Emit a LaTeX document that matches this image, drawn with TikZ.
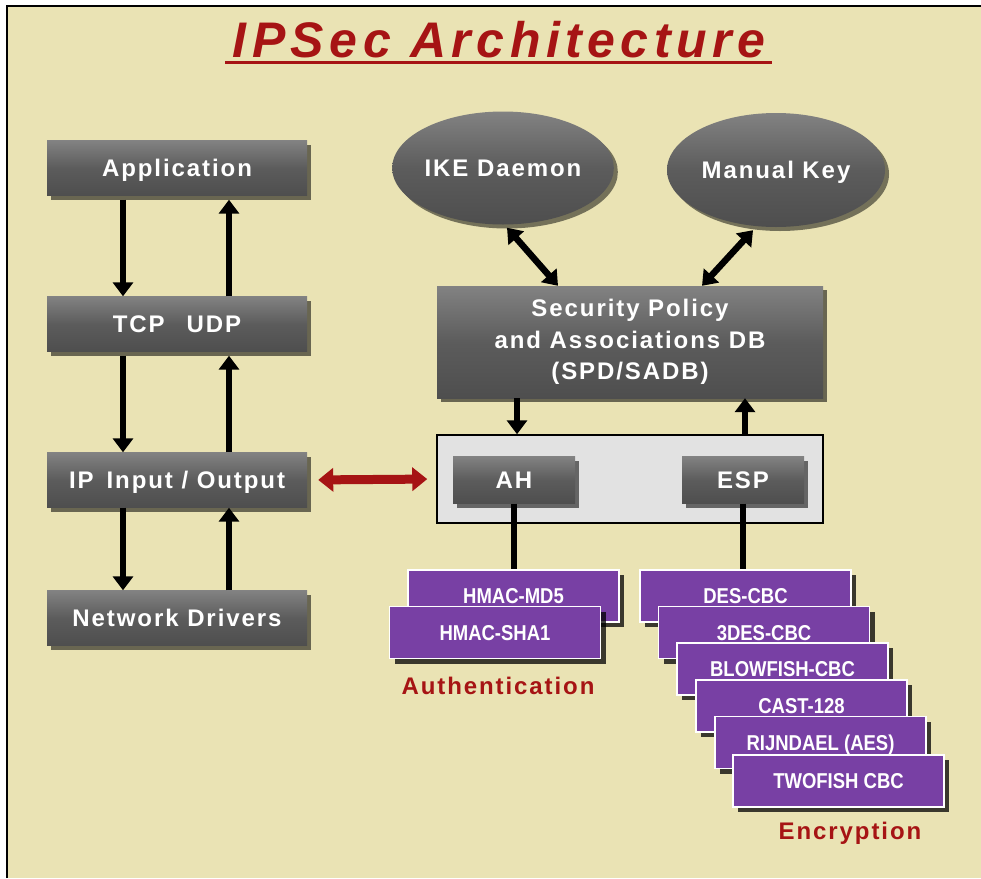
\documentclass[tikz,border=0pt]{standalone}
\usepackage{fontspec}
\setmainfont{Liberation Sans}
\newfontfamily\spaced[LetterSpace=8]{Liberation Sans}
\newfontfamily\titlefont[LetterSpace=11]{Liberation Sans}
\newfontfamily\narrowfont[FakeStretch=0.86]{Liberation Sans}
\usetikzlibrary{arrows.meta,shadows,shapes.geometric}
\definecolor{bg}{RGB}{234,227,180}
\definecolor{boxgray}{RGB}{92,92,92}
\definecolor{boxtop}{RGB}{130,130,130}
\definecolor{boxbot}{RGB}{78,78,78}
\definecolor{purp}{RGB}{120,64,164}
\definecolor{darkred}{RGB}{166,20,20}
\definecolor{panelgray}{RGB}{226,226,226}
\tikzset{
  graybox/.style={rectangle, inner sep=0pt, top color=boxtop, bottom color=boxbot, middle color=boxgray,
    drop shadow={shadow xshift=4pt, shadow yshift=-4pt, opacity=0.55, fill=black},
    text=white, font=\spaced\bfseries\fontsize{24}{30}\selectfont},
  layerbox/.style={graybox, minimum width=260pt, minimum height=55pt, text height=17pt, text depth=0pt},
  smallbox/.style={graybox, minimum width=122pt, minimum height=47pt, text height=17pt, text depth=0pt},
  keyell/.style={ellipse, inner sep=0pt, top color=boxtop, bottom color=boxbot, middle color=boxgray,
    drop shadow={shadow xshift=4pt, shadow yshift=-4pt, opacity=0.5, fill=black},
    text=white, font=\spaced\bfseries\fontsize{24}{30}\selectfont, text height=17pt, text depth=0pt},
  panelbox/.style={rectangle, fill=panelgray, draw=black, line width=1.5pt, minimum width=386pt, minimum height=88pt, inner sep=0pt},
  algbox/.style={rectangle, fill=purp, draw=white, line width=1.5pt, minimum width=211pt, minimum height=52pt, inner sep=0pt,
    drop shadow={shadow xshift=5pt, shadow yshift=-5pt, opacity=0.75, fill=black},
    text=white, font=\narrowfont\bfseries\fontsize{21.5}{26}\selectfont, text height=15pt, text depth=0pt},
  grouplabel/.style={text=darkred, font=\spaced\bfseries\fontsize{24}{30}\selectfont},
  blk/.style={line width=6.5pt, -{Triangle[width=20pt,length=14pt]}},
  dblk/.style={line width=6.5pt, {Triangle[width=20pt,length=14pt]}-{Triangle[width=20pt,length=14pt]}},
  redarrow/.style={line width=9pt, darkred, {Triangle[width=23pt,length=15pt]}-{Triangle[width=23pt,length=15pt]}},
  plainline/.style={line width=5.5pt}
}
\begin{document}
\begin{tikzpicture}[x=1pt,y=-1pt]
\useasboundingbox (0,0) rectangle (981,878);
\fill[white] (0,0) rectangle (981,878);
\fill[bg] (7,6) rectangle (981,878);
\draw[black, line width=2pt] (7,878) -- (7,6) -- (981,6);

% title
\node[text=darkred, font=\titlefont\bfseries\itshape\fontsize{50}{55}\selectfont, anchor=base] (title) at (499,57) {IPSec Architecture};
\draw[darkred, line width=3pt] (225,62.5) -- (772,62.5);

% left stack
\node[layerbox] (app) at (177,168) {Application};
\node[layerbox] (tcp) at (177,324) {TCP\hspace{22pt}UDP};
\node[layerbox] (ip)  at (177,480) {IP\hspace{13pt}Input / Output};
\node[layerbox] (nd)  at (177,618) {Network Drivers};

\draw[blk] ([xshift=-54pt,yshift=-4pt]app.south) -- ([xshift=-54pt]tcp.north);
\draw[blk] ([xshift=52pt]tcp.north) -- ([xshift=52pt,yshift=-4pt]app.south);
\draw[blk] ([xshift=-54pt,yshift=-4pt]tcp.south) -- ([xshift=-54pt]ip.north);
\draw[blk] ([xshift=52pt]ip.north) -- ([xshift=52pt,yshift=-4pt]tcp.south);
\draw[blk] ([xshift=-54pt]ip.south) -- ([xshift=-54pt]nd.north);
\draw[blk] ([xshift=52pt]nd.north) -- ([xshift=52pt]ip.south);

% key management
\node[keyell, minimum width=220pt, minimum height=113pt] (ike) at (503,168) {IKE Daemon};
\node[keyell, minimum width=218pt, minimum height=114pt] (mk) at (776,170) {Manual Key};

\node[graybox, minimum width=386pt, minimum height=112pt, align=center, font=\spaced\bfseries\fontsize{24}{31.5}\selectfont] (spd) at (630,342)
  {Security Policy\\and Associations DB\\(SPD/SADB)};

\draw[dblk] ([xshift=4pt,yshift=-3pt]ike.south) -- ([xshift=-72pt]spd.north);
\draw[dblk] ([xshift=-23pt,yshift=-3pt]mk.south) -- ([xshift=72pt]spd.north);

% protocol panel
\node[panelbox] (pan) at (630,479) {};
\node[smallbox] (ah) at (514,480) {AH};
\node[smallbox] (esp) at (743,480) {ESP};

\draw[blk] ([xshift=-113pt]spd.south) -- ([xshift=-113pt]pan.north);
\draw[blk] ([xshift=115pt]pan.north) -- ([xshift=115pt]spd.south);

\draw[redarrow, shorten <=11pt, shorten >=9pt] (ip.east) -- (pan.west);

% authentication algorithms
\node[algbox] (md5) at (513.5,596) {HMAC-MD5};
\node[algbox] (sha1) at (495,632.5) {HMAC-SHA1};
\node[grouplabel] (auth) at (498,686) {Authentication};

% encryption algorithms
\node[algbox] (des) at (745.5,596) {DES-CBC};
\node[algbox] (tdes) at (764,632.5) {3DES-CBC};
\node[algbox] (blow) at (782.5,669) {BLOWFISH-CBC};
\node[algbox] (cast) at (801.5,706) {CAST-128};
\node[algbox] (rijn) at (820.5,742.5) {RIJNDAEL (AES)};
\node[algbox] (two) at (838.5,781) {TWOFISH CBC};
\node[grouplabel] (enc) at (850,833) {Encryption};

\draw[plainline] (ah.south) -- (ah.south |- md5.north);
\draw[plainline] (esp.south) -- (esp.south |- des.north);
\end{tikzpicture}
\end{document}
